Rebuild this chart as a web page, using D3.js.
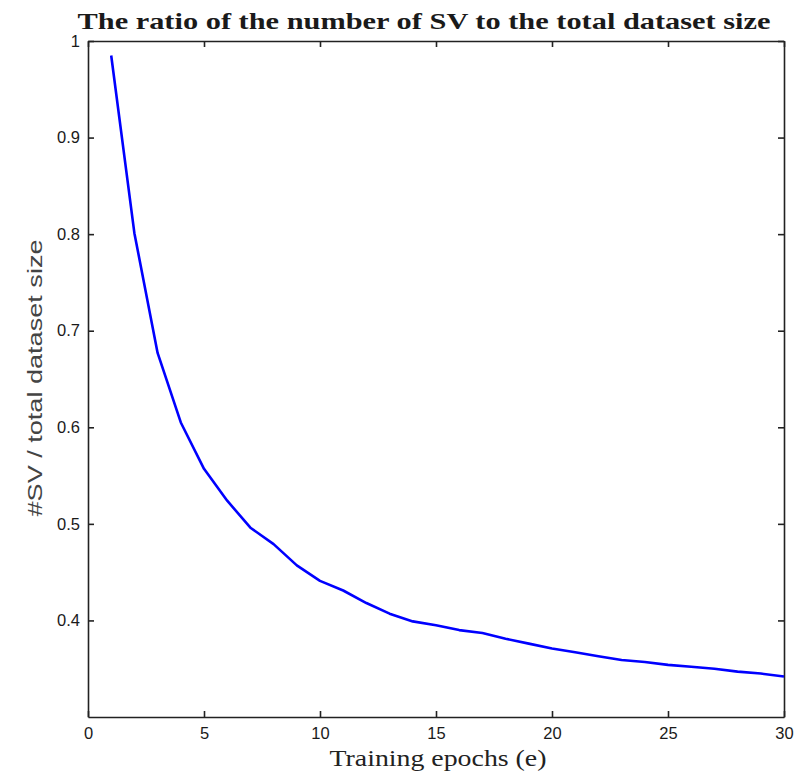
<!DOCTYPE html>
<html>
<head>
<meta charset="utf-8">
<script src="https://cdn.jsdelivr.net/npm/d3@7"></script>
<style>
  body { margin: 0; background: #fff; }
  svg { display: block; }
</style>
</head>
<body>
<svg id="chart"></svg>
<script>
// epochs and ratio of support vectors
const epochs = [1, 2, 3, 4, 5, 6, 7, 8, 9, 10, 11, 12, 13, 14, 15,
  16, 17, 18, 19, 20, 21, 22, 23, 24, 25, 26, 27, 28, 29, 30];
const svRatio = [0.985, 0.801, 0.677, 0.605, 0.557, 0.524, 0.496, 0.479, 0.457, 0.441,
  0.431, 0.418, 0.407, 0.399, 0.395, 0.390, 0.387, 0.381, 0.376, 0.371,
  0.367, 0.363, 0.359, 0.357, 0.354, 0.352, 0.350, 0.347, 0.345, 0.342];
const xTicks = [0, 5, 10, 15, 20, 25, 30];
const yTicks = [0.4, 0.5, 0.6, 0.7, 0.8, 0.9, 1];

const width = 803, height = 774;
const margin = {left: 88, right: 19, top: 41, bottom: 57};
const innerW = width - margin.left - margin.right;
const innerH = height - margin.top - margin.bottom;

const svg = d3.select('#chart')
  .attr('width', width)
  .attr('height', height);

const g = svg.append('g')
  .attr('transform', `translate(${margin.left}, ${margin.top})`);

const xScale = d3.scaleLinear().domain([0, 30]).range([0, innerW]);
const yScale = d3.scaleLinear().domain([0.3, 1]).range([innerH, 0]);

const tickFont = '"Liberation Sans", Arial, sans-serif';

// bottom and left axes with labels, top and right with ticks only (all inward)
const xAxis = g.append('g')
  .attr('transform', `translate(0, ${innerH})`)
  .call(d3.axisBottom(xScale).tickValues(xTicks).tickSizeInner(-6).tickSizeOuter(0).tickPadding(10).tickFormat(d3.format('d')));
const xAxisTop = g.append('g')
  .call(d3.axisTop(xScale).tickValues(xTicks).tickSizeInner(-6).tickSizeOuter(0).tickFormat(''));
const yAxis = g.append('g')
  .call(d3.axisLeft(yScale).tickValues(yTicks).tickSizeInner(-6).tickSizeOuter(0).tickPadding(8).tickFormat(d => d === 1 ? '1' : d3.format('.1f')(d)));
const yAxisRight = g.append('g')
  .attr('transform', `translate(${innerW}, 0)`)
  .call(d3.axisRight(yScale).tickValues(yTicks).tickSizeInner(-6).tickSizeOuter(0).tickFormat(''));

[xAxis, xAxisTop, yAxis, yAxisRight].forEach(ax => {
  ax.select('.domain').attr('stroke', '#222').attr('stroke-width', 1.6);
  ax.selectAll('.tick line').attr('stroke', '#222').attr('stroke-width', 1.6);
  ax.selectAll('.tick text')
    .attr('fill', '#1a1a1a')
    .style('font-family', tickFont)
    .style('font-size', '16.5px');
});

// the curve
const line = d3.line()
  .x((d, i) => xScale(epochs[i]))
  .y(d => yScale(d));

g.append('path')
  .datum(svRatio)
  .attr('fill', 'none')
  .attr('stroke', '#0000ff')
  .attr('stroke-width', 2.6)
  .attr('stroke-linejoin', 'round')
  .attr('d', line);

// title
svg.append('text')
  .attr('x', margin.left + innerW / 2 - 12)
  .attr('y', 29)
  .attr('text-anchor', 'middle')
  .attr('fill', '#1a1a1a')
  .style('font-family', '"Liberation Serif", "Times New Roman", serif')
  .style('font-weight', 'bold')
  .style('font-size', '23px')
  .attr('textLength', 693)
  .attr('lengthAdjust', 'spacingAndGlyphs')
  .text('The ratio of the number of SV to the total dataset size');

// x label
svg.append('text')
  .attr('x', margin.left + innerW / 2 + 2)
  .attr('y', 766)
  .attr('text-anchor', 'middle')
  .attr('fill', '#222')
  .style('font-family', '"Liberation Serif", "Times New Roman", serif')
  .style('font-size', '24px')
  .attr('textLength', 217)
  .attr('lengthAdjust', 'spacingAndGlyphs')
  .text('Training epochs (e)');

// y label
svg.append('text')
  .attr('transform', `translate(42, 378) rotate(-90)`)
  .attr('text-anchor', 'middle')
  .attr('fill', '#444')
  .style('font-family', tickFont)
  .style('font-size', '20px')
  .attr('textLength', 277)
  .attr('lengthAdjust', 'spacingAndGlyphs')
  .text('#SV / total dataset size');
</script>
</body>
</html>
